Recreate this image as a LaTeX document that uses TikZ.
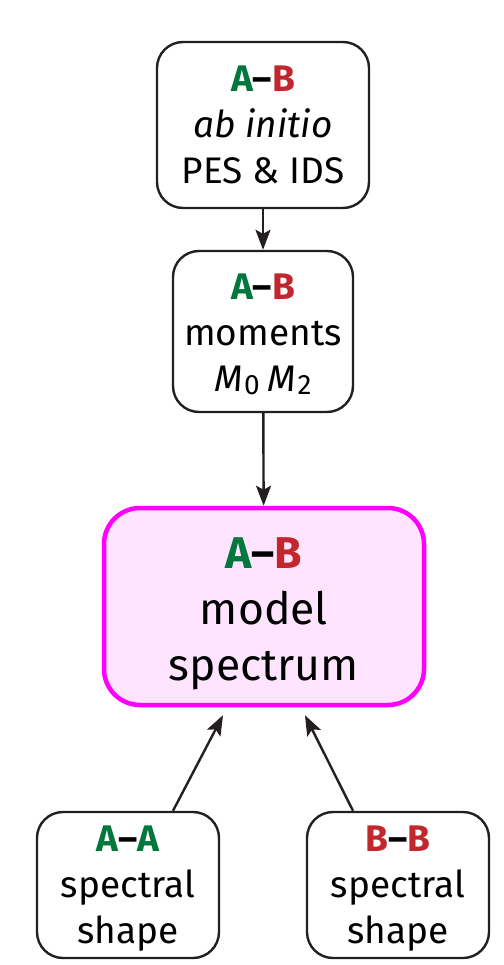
\documentclass[tikz,border=0pt]{standalone}
\usepackage{fontspec}
\setmainfont{Fira Sans}
\usetikzlibrary{arrows.meta,calc}
\definecolor{ink}{HTML}{231F20}
\definecolor{agreen}{HTML}{00773C}
\definecolor{bred}{HTML}{C1272D}
\definecolor{mag}{HTML}{FF00FF}
\definecolor{pinkfill}{HTML}{FFE4FF}
\newcommand{\A}{\textcolor{agreen}{A}}
\newcommand{\B}{\textcolor{bred}{B}}
\newcommand{\msub}[1]{\kern1pt\raisebox{-2.5pt}{\fontsize{28}{28}\selectfont #1}}
\begin{document}
\begin{tikzpicture}[x=1pt,y=-1pt,
  box/.style={draw=ink,line width=2.4pt,rounded corners=26pt,align=center,inner sep=0pt,
    font=\fontsize{37}{46}\selectfont},
  bigbox/.style={draw=mag,fill=pinkfill,line width=4.5pt,rounded corners=36pt,align=center,inner sep=0pt,
    font=\fontsize{44.5}{56}\selectfont},
  arr/.style={draw=ink,line width=2.4pt,-{Stealth[length=20pt,width=15pt,inset=4pt]}}]
\useasboundingbox (0,0) rectangle (503,965);
\node[box,minimum width=212pt,minimum height=166pt] (pes) at (263,125)
  {\textbf{\A--\B}\\\textit{ab initio}\\PES \& IDS};
\node[box,minimum width=180pt,minimum height=161pt] (mom) at (263,331.5)
  {\rule{0pt}{31pt}\textbf{\A--\B}\\moments\\\textit{M}\msub{0}\hspace{0.22em}\textit{M}\msub{2}};
\node[bigbox,minimum width=320pt,minimum height=197pt] (model) at (264,606.5)
  {\rule{0pt}{45pt}\textbf{\A--\B}\\model\\spectrum};
\node[box,minimum width=182pt,minimum height=146pt] (aa) at (128,885)
  {\rule{0pt}{32pt}\textbf{\A--\A}\\spectral\\shape};
\node[box,minimum width=182pt,minimum height=146pt] (bb) at (398,885)
  {\rule{0pt}{32pt}\textbf{\B--\B}\\spectral\\shape};
\draw[arr] (pes) -- (mom);
\draw[arr] (mom) -- (model);
\draw[arr] ($(aa.north)+(45,0)$) -- ($(model.south)+(-41,8)$);
\draw[arr] ($(bb.north)+(-45,0)$) -- ($(model.south)+(41,8)$);
\end{tikzpicture}
\end{document}
